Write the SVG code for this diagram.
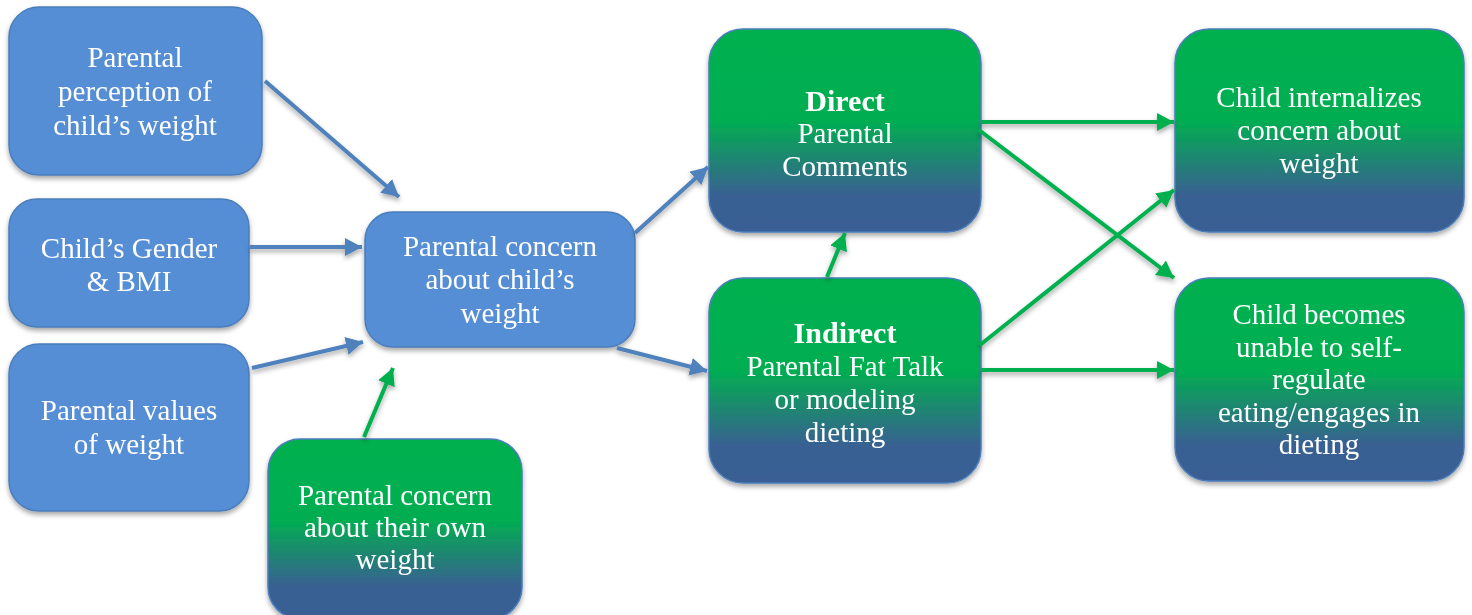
<svg xmlns="http://www.w3.org/2000/svg" width="1472" height="615" viewBox="0 0 1472 615">
<style>
.box{stroke-width:1.5}
.blue{fill:#558ED5;stroke:#4A7EBB}
.grad{fill:url(#gb);stroke:#4A7EBB}
text{font-family:"Liberation Serif","Times New Roman",serif;font-size:29px;fill:#ffffff;text-anchor:middle}
.b{font-weight:bold;font-size:30px}
.cb{stroke:#4F81BD;stroke-width:4;fill:none;marker-end:url(#ab)}
.cg{stroke:#00B050;stroke-width:4;fill:none;marker-end:url(#ag)}
</style>
<defs>
<linearGradient id="gb" x1="0" y1="0" x2="0" y2="1">
<stop offset="0" stop-color="#00B050"/>
<stop offset="0.45" stop-color="#00AE51"/>
<stop offset="0.62" stop-color="#1C8A6E"/>
<stop offset="0.82" stop-color="#386092"/>
<stop offset="1" stop-color="#3A5F94"/>
</linearGradient>
<filter id="sh" x="-10%" y="-10%" width="120%" height="130%">
<feDropShadow dx="0" dy="3" stdDeviation="2.5" flood-color="#000" flood-opacity="0.35"/>
</filter>
<marker id="ab" markerUnits="userSpaceOnUse" markerWidth="22" markerHeight="22" refX="17" refY="9" orient="auto">
<path d="M0,0 L17,9 L0,18 Z" fill="#4F81BD"/>
</marker>
<marker id="ag" markerUnits="userSpaceOnUse" markerWidth="22" markerHeight="22" refX="17" refY="9" orient="auto">
<path d="M0,0 L17,9 L0,18 Z" fill="#00B050"/>
</marker>
</defs>
<rect width="1472" height="615" fill="#ffffff"/>

<g id="n1" filter="url(#sh)">
<rect class="box blue" x="9" y="7" width="253" height="168" rx="30"/>
<text x="135" y="67">Parental</text>
<text x="135" y="101">perception of</text>
<text x="135" y="135">child’s weight</text>
</g>
<g id="n2" filter="url(#sh)">
<rect class="box blue" x="9" y="199" width="240" height="128" rx="28"/>
<text x="129" y="258">Child’s Gender</text>
<text x="129" y="291">&amp; BMI</text>
</g>
<g id="n3" filter="url(#sh)">
<rect class="box blue" x="9" y="344" width="240" height="167" rx="30"/>
<text x="129" y="420">Parental values</text>
<text x="129" y="454">of weight</text>
</g>
<g id="n4" filter="url(#sh)">
<rect class="box blue" x="365" y="212" width="270" height="135" rx="28"/>
<text x="500" y="256">Parental concern</text>
<text x="500" y="289">about child’s</text>
<text x="500" y="323">weight</text>
</g>
<g id="n5" filter="url(#sh)">
<rect class="box grad" x="268" y="439" width="254" height="180" rx="32"/>
<text x="395" y="505">Parental concern</text>
<text x="395" y="537">about their own</text>
<text x="395" y="569">weight</text>
</g>
<g id="n6" filter="url(#sh)">
<rect class="box grad" x="709" y="29" width="272" height="203" rx="34"/>
<text class="b" x="845" y="111">Direct</text>
<text x="845" y="143">Parental</text>
<text x="845" y="176">Comments</text>
</g>
<g id="n7" filter="url(#sh)">
<rect class="box grad" x="709" y="278" width="272" height="205" rx="34"/>
<text class="b" x="845" y="343">Indirect</text>
<text x="845" y="376">Parental Fat Talk</text>
<text x="845" y="409">or modeling</text>
<text x="845" y="442">dieting</text>
</g>
<g id="n8" filter="url(#sh)">
<rect class="box grad" x="1175" y="29" width="289" height="203" rx="34"/>
<text x="1319" y="107">Child internalizes</text>
<text x="1319" y="140">concern about</text>
<text x="1319" y="173">weight</text>
</g>
<g id="n9" filter="url(#sh)">
<rect class="box grad" x="1175" y="278" width="289" height="203" rx="34"/>
<text x="1319" y="324">Child becomes</text>
<text x="1319" y="357">unable to self-</text>
<text x="1319" y="389">regulate</text>
<text x="1319" y="422">eating/engages in</text>
<text x="1319" y="454">dieting</text>
</g>

<g id="connectors" filter="url(#sh)">
<line class="cb" x1="265" y1="81" x2="399" y2="197"/>
<line class="cb" x1="250" y1="247" x2="362" y2="247"/>
<line class="cb" x1="252" y1="368" x2="363" y2="342"/>
<line class="cg" x1="364" y1="437" x2="393" y2="368"/>
<line class="cb" x1="635" y1="233" x2="708" y2="167"/>
<line class="cb" x1="617" y1="348" x2="707" y2="371"/>
<line class="cg" x1="827" y1="277" x2="845" y2="233"/>
<line class="cg" x1="981" y1="122" x2="1174" y2="122"/>
<line class="cg" x1="979" y1="130" x2="1174" y2="278"/>
<line class="cg" x1="980" y1="345" x2="1174" y2="190"/>
<line class="cg" x1="981" y1="370" x2="1174" y2="370"/>
</g>
</svg>
